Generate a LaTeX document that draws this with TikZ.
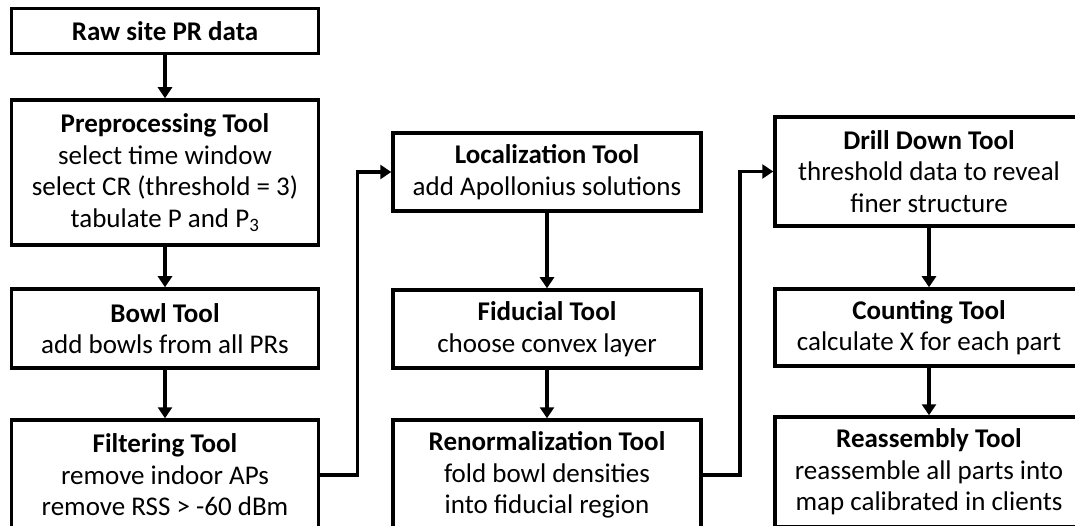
\documentclass[tikz,border=0pt]{standalone}
\usepackage{fontspec}
\setmainfont{Carlito}
\usetikzlibrary{arrows.meta}
\begin{document}
\begin{tikzpicture}[x=1pt,y=-1pt,
  box/.style={draw=black, line width=3.5pt, align=center, inner sep=0pt,
    font=\fontsize{27}{31.5}\selectfont, text=black},
  arr/.style={line width=3.5pt, -{Triangle[length=11pt,width=14pt]}}]
\useasboundingbox (0,0) rectangle (1075,526);
\clip (0,0) rectangle (1075,526);
% column 1
\node[box, minimum width=307pt, minimum height=45pt] (raw) at (165,31) {\textbf{Raw site PR data}};
\node[box, minimum width=307pt, minimum height=145pt] (pre) at (165,172.5)
  {\textbf{Preprocessing Tool}\\select time window\\select CR (threshold = 3)\\tabulate P and P\textsubscript{3}};
\node[box, minimum width=307pt, minimum height=79pt] (bowl) at (165,328.5)
  {\textbf{Bowl Tool}\\add bowls from all PRs};
\node[box, minimum width=307pt, minimum height=110pt] (filt) at (165,475)
  {\textbf{Filtering Tool}\\remove indoor APs\\remove RSS > -60 dBm};
% column 2
\node[box, minimum width=308pt, minimum height=78pt] (loc) at (547,172)
  {\textbf{Localization Tool}\\add Apollonius solutions};
\node[box, minimum width=308pt, minimum height=78pt] (fid) at (547,329)
  {\textbf{Fiducial Tool}\\choose convex layer};
\node[box, minimum width=308pt, minimum height=110pt] (ren) at (547,475)
  {\textbf{Renormalization Tool}\\fold bowl densities\\into fiducial region};
% column 3
\node[box, minimum width=308pt, minimum height=109pt] (drill) at (929,171.5)
  {\textbf{Drill Down Tool}\\threshold data to reveal\\finer structure};
\node[box, minimum width=308pt, minimum height=77pt] (count) at (929,327.5)
  {\textbf{Counting Tool}\\calculate X for each part};
\node[box, minimum width=308pt, minimum height=110pt] (reas) at (929,472)
  {\textbf{Reassembly Tool}\\reassemble all parts into\\map calibrated in clients};
% arrows
\draw[arr] (raw) -- (pre);
\draw[arr] (pre) -- (bowl);
\draw[arr] (bowl) -- (filt);
\draw[arr] (loc) -- (fid);
\draw[arr] (fid) -- (ren);
\draw[arr] (drill) -- (count);
\draw[arr] (count) -- (reas);
\draw[arr] (filt.east) -- ++(37,0) |- (loc.west);
\draw[arr] (ren.east) -- ++(37,0) |- (drill.west);
\end{tikzpicture}
\end{document}
